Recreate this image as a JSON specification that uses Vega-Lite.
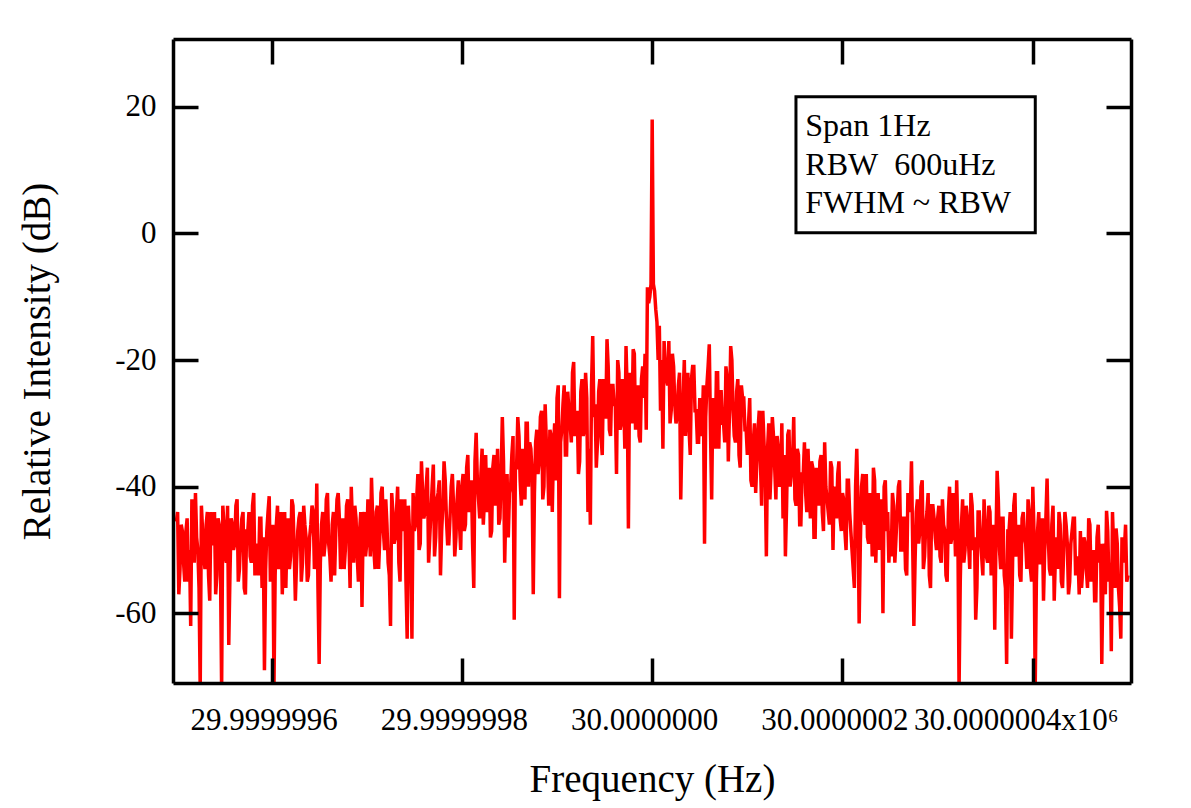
{
  "$schema": "https://vega.github.io/schema/vega-lite/v6.json",
  "width": 958,
  "height": 644,
  "autosize": {"type": "none"},
  "padding": {"left": 173, "top": 39, "right": 60, "bottom": 125},
  "background": "white",
  "config": {"view": {"stroke": null}, "font": "Liberation Serif"},
  "data": {"values": [
{"f":-0.5,"d":-45.5},{"f":-0.4975,"d":-57},{"f":-0.495,"d":-46},{"f":-0.4925,"d":-52},{"f":-0.49,"d":-47},{"f":-0.4875,"d":-55},{"f":-0.485,"d":-62},{"f":-0.4825,"d":-48},{"f":-0.48,"d":-41},{"f":-0.4775,"d":-50},{"f":-0.475,"d":-72},{"f":-0.4725,"d":-47},{"f":-0.47,"d":-53},{"f":-0.4675,"d":-44},{"f":-0.465,"d":-58},{"f":-0.4625,"d":-49},{"f":-0.46,"d":-44},{"f":-0.4575,"d":-54},{"f":-0.455,"d":-46},{"f":-0.4525,"d":-72},
{"f":-0.45,"d":-46},{"f":-0.4475,"d":-52},{"f":-0.445,"d":-65},{"f":-0.4425,"d":-45},{"f":-0.44,"d":-50},{"f":-0.4375,"d":-43},{"f":-0.435,"d":-55},{"f":-0.4325,"d":-48},{"f":-0.43,"d":-44},{"f":-0.4275,"d":-57},{"f":-0.425,"d":-47},{"f":-0.4225,"d":-51},{"f":-0.42,"d":-43},{"f":-0.4175,"d":-54},{"f":-0.415,"d":-49},{"f":-0.4125,"d":-45},{"f":-0.41,"d":-56},{"f":-0.4075,"d":-69},{"f":-0.405,"d":-47},{"f":-0.4025,"d":-41.5},
{"f":-0.4,"d":-50},{"f":-0.3975,"d":-72},{"f":-0.395,"d":-46},{"f":-0.3925,"d":-53},{"f":-0.39,"d":-44},{"f":-0.3875,"d":-49},{"f":-0.385,"d":-56},{"f":-0.3825,"d":-45},{"f":-0.38,"d":-51},{"f":-0.3775,"d":-43},{"f":-0.375,"d":-58},{"f":-0.3725,"d":-47},{"f":-0.37,"d":-44},{"f":-0.3675,"d":-52},{"f":-0.365,"d":-46},{"f":-0.3625,"d":-55},{"f":-0.36,"d":-48},{"f":-0.3575,"d":-43},{"f":-0.355,"d":-53},{"f":-0.3525,"d":-39.5},
{"f":-0.35,"d":-68},{"f":-0.3475,"d":-46},{"f":-0.345,"d":-51},{"f":-0.3425,"d":-42},{"f":-0.34,"d":-49},{"f":-0.3375,"d":-55},{"f":-0.335,"d":-44},{"f":-0.3325,"d":-47},{"f":-0.33,"d":-41},{"f":-0.3275,"d":-53},{"f":-0.325,"d":-45},{"f":-0.3225,"d":-50},{"f":-0.32,"d":-42},{"f":-0.3175,"d":-56},{"f":-0.315,"d":-46},{"f":-0.3125,"d":-43},{"f":-0.31,"d":-51},{"f":-0.3075,"d":-47},{"f":-0.305,"d":-59},{"f":-0.3025,"d":-44},
{"f":-0.3,"d":-49},{"f":-0.2975,"d":-45},{"f":-0.295,"d":-38.6},{"f":-0.2925,"d":-50},{"f":-0.29,"d":-44},{"f":-0.2875,"d":-53},{"f":-0.285,"d":-41},{"f":-0.2825,"d":-47},{"f":-0.28,"d":-42},{"f":-0.2775,"d":-52},{"f":-0.275,"d":-62},{"f":-0.2725,"d":-44},{"f":-0.27,"d":-48},{"f":-0.2675,"d":-40},{"f":-0.265,"d":-55},{"f":-0.2625,"d":-45},{"f":-0.26,"d":-42},{"f":-0.2575,"d":-64},{"f":-0.255,"d":-47},{"f":-0.2525,"d":-64},
{"f":-0.25,"d":-47},{"f":-0.2475,"d":-42},{"f":-0.245,"d":-50},{"f":-0.2425,"d":-36},{"f":-0.24,"d":-45},{"f":-0.2375,"d":-40},{"f":-0.235,"d":-52},{"f":-0.2325,"d":-44},{"f":-0.23,"d":-36.5},{"f":-0.2275,"d":-48},{"f":-0.225,"d":-41},{"f":-0.2225,"d":-54},{"f":-0.22,"d":-43},{"f":-0.2175,"d":-39},{"f":-0.215,"d":-49},{"f":-0.2125,"d":-45},{"f":-0.21,"d":-38},{"f":-0.2075,"d":-51},{"f":-0.205,"d":-42},{"f":-0.2025,"d":-46},
{"f":-0.2,"d":-40},{"f":-0.1975,"d":-47},{"f":-0.195,"d":-37},{"f":-0.1925,"d":-44},{"f":-0.19,"d":-39},{"f":-0.1875,"d":-56},{"f":-0.185,"d":-31.5},{"f":-0.1825,"d":-42},{"f":-0.18,"d":-38},{"f":-0.1775,"d":-46},{"f":-0.175,"d":-35},{"f":-0.1725,"d":-41},{"f":-0.17,"d":-48},{"f":-0.1675,"d":-37},{"f":-0.165,"d":-43},{"f":-0.1625,"d":-34},{"f":-0.16,"d":-45},{"f":-0.1575,"d":-29},{"f":-0.155,"d":-52},{"f":-0.1525,"d":-38},
{"f":-0.15,"d":-41},{"f":-0.1475,"d":-35},{"f":-0.145,"d":-61},{"f":-0.1425,"d":-37},{"f":-0.14,"d":-32},{"f":-0.1375,"d":-43},{"f":-0.135,"d":-36},{"f":-0.1325,"d":-30},{"f":-0.13,"d":-40},{"f":-0.1275,"d":-34},{"f":-0.125,"d":-57},{"f":-0.1225,"d":-33},{"f":-0.12,"d":-38},{"f":-0.1175,"d":-29},{"f":-0.115,"d":-42},{"f":-0.1125,"d":-27},{"f":-0.11,"d":-35},{"f":-0.1075,"d":-31},{"f":-0.105,"d":-44},{"f":-0.1025,"d":-30},
{"f":-0.1,"d":-26},{"f":-0.0975,"d":-57.6},{"f":-0.095,"d":-31},{"f":-0.0925,"d":-24},{"f":-0.09,"d":-35},{"f":-0.0875,"d":-28},{"f":-0.085,"d":-33},{"f":-0.0825,"d":-20.3},{"f":-0.08,"d":-30},{"f":-0.0775,"d":-38},{"f":-0.075,"d":-25},{"f":-0.0725,"d":-32},{"f":-0.07,"d":-22},{"f":-0.0675,"d":-44},{"f":-0.065,"d":-46},{"f":-0.0625,"d":-16.2},{"f":-0.06,"d":-27},{"f":-0.0575,"d":-33},{"f":-0.055,"d":-23},{"f":-0.0525,"d":-35},
{"f":-0.05,"d":-29},{"f":-0.0475,"d":-16.7},{"f":-0.045,"d":-31},{"f":-0.0425,"d":-24},{"f":-0.04,"d":-27},{"f":-0.0375,"d":-38},{"f":-0.035,"d":-22},{"f":-0.0325,"d":-30},{"f":-0.03,"d":-26},{"f":-0.0275,"d":-17.8},{"f":-0.025,"d":-46.6},{"f":-0.0225,"d":-25},{"f":-0.02,"d":-18.3},{"f":-0.0175,"d":-31},{"f":-0.015,"d":-24},{"f":-0.0125,"d":-33},{"f":-0.01,"d":-21},{"f":-0.0075,"d":-19},{"f":-0.005,"d":-8.5},{"f":-0.0025,"d":-10},
{"f":0,"d":18},{"f":0.0025,"d":-9.1},{"f":0.005,"d":-14},{"f":0.0075,"d":-14.6},{"f":0.01,"d":-20},{"f":0.0125,"d":-17},{"f":0.015,"d":-23},{"f":0.0175,"d":-17},{"f":0.02,"d":-28},{"f":0.0225,"d":-21},{"f":0.025,"d":-30},{"f":0.0275,"d":-24},{"f":0.03,"d":-42},{"f":0.0325,"d":-26},{"f":0.035,"d":-32},{"f":0.0375,"d":-22},{"f":0.04,"d":-35},{"f":0.0425,"d":-21},{"f":0.045,"d":-28},{"f":0.0475,"d":-33},
{"f":0.05,"d":-26},{"f":0.0525,"d":-31},{"f":0.055,"d":-49},{"f":0.0575,"d":-24},{"f":0.06,"d":-17.5},{"f":0.0625,"d":-42},{"f":0.065,"d":-27},{"f":0.0675,"d":-22},{"f":0.07,"d":-34},{"f":0.0725,"d":-25},{"f":0.075,"d":-30},{"f":0.0775,"d":-21},{"f":0.08,"d":-36},{"f":0.0825,"d":-17.8},{"f":0.085,"d":-28},{"f":0.0875,"d":-33},{"f":0.09,"d":-23},{"f":0.0925,"d":-37},{"f":0.095,"d":-26},{"f":0.0975,"d":-31},
{"f":0.1,"d":-35},{"f":0.1025,"d":-26},{"f":0.105,"d":-40},{"f":0.1075,"d":-30},{"f":0.11,"d":-36},{"f":0.1125,"d":-28},{"f":0.115,"d":-43},{"f":0.1175,"d":-33},{"f":0.12,"d":-51},{"f":0.1225,"d":-30},{"f":0.125,"d":-37},{"f":0.1275,"d":-32},{"f":0.13,"d":-42},{"f":0.1325,"d":-34},{"f":0.135,"d":-39},{"f":0.1375,"d":-45},{"f":0.14,"d":-51},{"f":0.1425,"d":-31.8},{"f":0.145,"d":-40},{"f":0.1475,"d":-36},
{"f":0.15,"d":-42},{"f":0.1525,"d":-34},{"f":0.155,"d":-46},{"f":0.1575,"d":-38},{"f":0.16,"d":-33},{"f":0.1625,"d":-44},{"f":0.165,"d":-40},{"f":0.1675,"d":-36},{"f":0.17,"d":-48},{"f":0.1725,"d":-37},{"f":0.175,"d":-43},{"f":0.1775,"d":-35},{"f":0.18,"d":-47},{"f":0.1825,"d":-40},{"f":0.185,"d":-44},{"f":0.1875,"d":-36},{"f":0.19,"d":-50},{"f":0.1925,"d":-41},{"f":0.195,"d":-38},{"f":0.1975,"d":-45},
{"f":0.2,"d":-41},{"f":0.2025,"d":-47},{"f":0.205,"d":-39},{"f":0.2075,"d":-44},{"f":0.21,"d":-50},{"f":0.2125,"d":-56},{"f":0.215,"d":-34},{"f":0.2175,"d":-61.6},{"f":0.22,"d":-40},{"f":0.2225,"d":-45},{"f":0.225,"d":-38},{"f":0.2275,"d":-49},{"f":0.23,"d":-42},{"f":0.2325,"d":-37},{"f":0.235,"d":-52},{"f":0.2375,"d":-41},{"f":0.24,"d":-46},{"f":0.2425,"d":-60},{"f":0.245,"d":-39},{"f":0.2475,"d":-44},
{"f":0.25,"d":-47},{"f":0.2525,"d":-41},{"f":0.255,"d":-52},{"f":0.2575,"d":-44},{"f":0.26,"d":-39},{"f":0.2625,"d":-50},{"f":0.265,"d":-45},{"f":0.2675,"d":-54},{"f":0.27,"d":-42},{"f":0.2725,"d":-36},{"f":0.275,"d":-62},{"f":0.2775,"d":-44},{"f":0.28,"d":-49},{"f":0.2825,"d":-40},{"f":0.285,"d":-53},{"f":0.2875,"d":-46},{"f":0.29,"d":-41},{"f":0.2925,"d":-56},{"f":0.295,"d":-43},{"f":0.2975,"d":-48},
{"f":0.3,"d":-45},{"f":0.3025,"d":-51},{"f":0.305,"d":-42},{"f":0.3075,"d":-47},{"f":0.31,"d":-55},{"f":0.3125,"d":-40},{"f":0.315,"d":-48},{"f":0.3175,"d":-44},{"f":0.32,"d":-39},{"f":0.3225,"d":-72},{"f":0.325,"d":-46},{"f":0.3275,"d":-52},{"f":0.33,"d":-43},{"f":0.3325,"d":-49},{"f":0.335,"d":-41},{"f":0.3375,"d":-50},{"f":0.34,"d":-61},{"f":0.3425,"d":-44},{"f":0.345,"d":-48},{"f":0.3475,"d":-54},
{"f":0.35,"d":-46},{"f":0.3525,"d":-52},{"f":0.355,"d":-44},{"f":0.3575,"d":-49},{"f":0.36,"d":-62.6},{"f":0.3625,"d":-37.5},{"f":0.365,"d":-50},{"f":0.3675,"d":-45},{"f":0.37,"d":-54},{"f":0.3725,"d":-68},{"f":0.375,"d":-47},{"f":0.3775,"d":-64},{"f":0.38,"d":-43},{"f":0.3825,"d":-51},{"f":0.385,"d":-46},{"f":0.3875,"d":-55},{"f":0.39,"d":-44},{"f":0.3925,"d":-49},{"f":0.395,"d":-42},{"f":0.3975,"d":-53},
{"f":0.4,"d":-40},{"f":0.4025,"d":-72},{"f":0.405,"d":-47},{"f":0.4075,"d":-52},{"f":0.41,"d":-45},{"f":0.4125,"d":-50},{"f":0.415,"d":-38.7},{"f":0.4175,"d":-53},{"f":0.42,"d":-46},{"f":0.4225,"d":-58},{"f":0.425,"d":-48},{"f":0.4275,"d":-44},{"f":0.43,"d":-55},{"f":0.4325,"d":-50},{"f":0.435,"d":-46},{"f":0.4375,"d":-57},{"f":0.44,"d":-49},{"f":0.4425,"d":-45},{"f":0.445,"d":-54},{"f":0.4475,"d":-51},
{"f":0.45,"d":-47},{"f":0.4525,"d":-53},{"f":0.455,"d":-49},{"f":0.4575,"d":-56},{"f":0.46,"d":-46},{"f":0.4625,"d":-51},{"f":0.465,"d":-58},{"f":0.4675,"d":-48},{"f":0.47,"d":-52},{"f":0.4725,"d":-68},{"f":0.475,"d":-49},{"f":0.4775,"d":-43.8},{"f":0.48,"d":-55},{"f":0.4825,"d":-66},{"f":0.485,"d":-50},{"f":0.4875,"d":-46.6},{"f":0.49,"d":-56},{"f":0.4925,"d":-64},{"f":0.495,"d":-52},{"f":0.4975,"d":-46},
{"f":0.5,"d":-54},
{"f":-0.49875,"d":-44},{"f":-0.49625,"d":-53},{"f":-0.49375,"d":-47},{"f":-0.49125,"d":-55},{"f":-0.48875,"d":-45},{"f":-0.48625,"d":-50},{"f":-0.48375,"d":-42},{"f":-0.48125,"d":-52},{"f":-0.47875,"d":-48},{"f":-0.47625,"d":-56},{"f":-0.47375,"d":-43},{"f":-0.47125,"d":-51},{"f":-0.46875,"d":-46},{"f":-0.46625,"d":-54},{"f":-0.46375,"d":-44},{"f":-0.46125,"d":-49},{"f":-0.45875,"d":-57},{"f":-0.45625,"d":-45},{"f":-0.45375,"d":-52},{"f":-0.45125,"d":-43},
{"f":-0.44875,"d":-51},{"f":-0.44625,"d":-43},{"f":-0.44375,"d":-54},{"f":-0.44125,"d":-46},{"f":-0.43875,"d":-49},{"f":-0.43625,"d":-42},{"f":-0.43375,"d":-53},{"f":-0.43125,"d":-45},{"f":-0.42875,"d":-56},{"f":-0.42625,"d":-47},{"f":-0.42375,"d":-44},{"f":-0.42125,"d":-52},{"f":-0.41875,"d":-41},{"f":-0.41625,"d":-50},{"f":-0.41375,"d":-54},{"f":-0.41125,"d":-45},{"f":-0.40875,"d":-48},{"f":-0.40625,"d":-53},{"f":-0.40375,"d":-44},{"f":-0.40125,"d":-55},
{"f":-0.39875,"d":-46},{"f":-0.39625,"d":-54},{"f":-0.39375,"d":-43},{"f":-0.39125,"d":-51},{"f":-0.38875,"d":-57},{"f":-0.38625,"d":-44},{"f":-0.38375,"d":-47},{"f":-0.38125,"d":-53},{"f":-0.37875,"d":-42},{"f":-0.37625,"d":-50},{"f":-0.37375,"d":-52},{"f":-0.37125,"d":-45},{"f":-0.36875,"d":-55},{"f":-0.36625,"d":-43},{"f":-0.36375,"d":-48},{"f":-0.36125,"d":-54},{"f":-0.35875,"d":-46},{"f":-0.35625,"d":-44},{"f":-0.35375,"d":-51},{"f":-0.35125,"d":-56},
{"f":-0.34875,"d":-52},{"f":-0.34625,"d":-44},{"f":-0.34375,"d":-49},{"f":-0.34125,"d":-41},{"f":-0.33875,"d":-51},{"f":-0.33625,"d":-46},{"f":-0.33375,"d":-54},{"f":-0.33125,"d":-42},{"f":-0.32875,"d":-45},{"f":-0.32625,"d":-50},{"f":-0.32375,"d":-53},{"f":-0.32125,"d":-43},{"f":-0.31875,"d":-48},{"f":-0.31625,"d":-40},{"f":-0.31375,"d":-52},{"f":-0.31125,"d":-45},{"f":-0.30875,"d":-55},{"f":-0.30625,"d":-44},{"f":-0.30375,"d":-46},{"f":-0.30125,"d":-51},
{"f":-0.29875,"d":-42},{"f":-0.29625,"d":-51},{"f":-0.29375,"d":-45},{"f":-0.29125,"d":-53},{"f":-0.28875,"d":-43},{"f":-0.28625,"d":-48},{"f":-0.28375,"d":-40},{"f":-0.28125,"d":-50},{"f":-0.27875,"d":-46},{"f":-0.27625,"d":-54},{"f":-0.27375,"d":-41},{"f":-0.27125,"d":-49},{"f":-0.26875,"d":-44},{"f":-0.26625,"d":-52},{"f":-0.26375,"d":-42},{"f":-0.26125,"d":-47},{"f":-0.25875,"d":-55},{"f":-0.25625,"d":-43},{"f":-0.25375,"d":-50},{"f":-0.25125,"d":-41},
{"f":-0.24875,"d":-46},{"f":-0.24625,"d":-38},{"f":-0.24375,"d":-49},{"f":-0.24125,"d":-41},{"f":-0.23875,"d":-44},{"f":-0.23625,"d":-37},{"f":-0.23375,"d":-48},{"f":-0.23125,"d":-40},{"f":-0.22875,"d":-51},{"f":-0.22625,"d":-42},{"f":-0.22375,"d":-39},{"f":-0.22125,"d":-47},{"f":-0.21875,"d":-36},{"f":-0.21625,"d":-45},{"f":-0.21375,"d":-49},{"f":-0.21125,"d":-40},{"f":-0.20875,"d":-43},{"f":-0.20625,"d":-48},{"f":-0.20375,"d":-39},{"f":-0.20125,"d":-50},
{"f":-0.19875,"d":-38},{"f":-0.19625,"d":-46},{"f":-0.19375,"d":-35},{"f":-0.19125,"d":-43},{"f":-0.18875,"d":-49},{"f":-0.18625,"d":-36},{"f":-0.18375,"d":-39},{"f":-0.18125,"d":-45},{"f":-0.17875,"d":-34},{"f":-0.17625,"d":-42},{"f":-0.17375,"d":-44},{"f":-0.17125,"d":-37},{"f":-0.16875,"d":-47},{"f":-0.16625,"d":-35},{"f":-0.16375,"d":-40},{"f":-0.16125,"d":-46},{"f":-0.15875,"d":-38},{"f":-0.15625,"d":-36},{"f":-0.15375,"d":-43},{"f":-0.15125,"d":-48},
{"f":-0.14875,"d":-40},{"f":-0.14625,"d":-32},{"f":-0.14375,"d":-37},{"f":-0.14125,"d":-29},{"f":-0.13875,"d":-39},{"f":-0.13625,"d":-34},{"f":-0.13375,"d":-42},{"f":-0.13125,"d":-30},{"f":-0.12875,"d":-33},{"f":-0.12625,"d":-38},{"f":-0.12375,"d":-41},{"f":-0.12125,"d":-31},{"f":-0.11875,"d":-36},{"f":-0.11625,"d":-28},{"f":-0.11375,"d":-40},{"f":-0.11125,"d":-33},{"f":-0.10875,"d":-43},{"f":-0.10625,"d":-32},{"f":-0.10375,"d":-34},{"f":-0.10125,"d":-39},
{"f":-0.09875,"d":-24},{"f":-0.09625,"d":-33},{"f":-0.09375,"d":-27},{"f":-0.09125,"d":-35},{"f":-0.08875,"d":-25},{"f":-0.08625,"d":-30},{"f":-0.08375,"d":-22},{"f":-0.08125,"d":-32},{"f":-0.07875,"d":-28},{"f":-0.07625,"d":-36},{"f":-0.07375,"d":-23},{"f":-0.07125,"d":-31},{"f":-0.06875,"d":-26},{"f":-0.06625,"d":-34},{"f":-0.06375,"d":-24},{"f":-0.06125,"d":-29},{"f":-0.05875,"d":-37},{"f":-0.05625,"d":-25},{"f":-0.05375,"d":-32},{"f":-0.05125,"d":-23},
{"f":-0.04875,"d":-29},{"f":-0.04625,"d":-21},{"f":-0.04375,"d":-32},{"f":-0.04125,"d":-24},{"f":-0.03875,"d":-27},{"f":-0.03625,"d":-20},{"f":-0.03375,"d":-31},{"f":-0.03125,"d":-23},{"f":-0.02875,"d":-34},{"f":-0.02625,"d":-25},{"f":-0.02375,"d":-22},{"f":-0.02125,"d":-30},{"f":-0.01875,"d":-19},{"f":-0.01625,"d":-28},{"f":-0.01375,"d":-32},{"f":-0.01125,"d":-23},{"f":-0.00875,"d":-26},{"f":-0.00625,"d":-31},{"f":-0.00375,"d":-11},{"f":-0.00125,"d":-8},
{"f":0.00125,"d":-8},{"f":0.00375,"d":-12},{"f":0.00625,"d":-20},{"f":0.00875,"d":-28},{"f":0.01125,"d":-34},{"f":0.01375,"d":-21},{"f":0.01625,"d":-24},{"f":0.01875,"d":-30},{"f":0.02125,"d":-19},{"f":0.02375,"d":-27},{"f":0.02625,"d":-29},{"f":0.02875,"d":-22},{"f":0.03125,"d":-32},{"f":0.03375,"d":-20},{"f":0.03625,"d":-25},{"f":0.03875,"d":-31},{"f":0.04125,"d":-23},{"f":0.04375,"d":-21},{"f":0.04625,"d":-28},{"f":0.04875,"d":-33},
{"f":0.05125,"d":-32},{"f":0.05375,"d":-24},{"f":0.05625,"d":-29},{"f":0.05875,"d":-21},{"f":0.06125,"d":-31},{"f":0.06375,"d":-26},{"f":0.06625,"d":-34},{"f":0.06875,"d":-22},{"f":0.07125,"d":-25},{"f":0.07375,"d":-30},{"f":0.07625,"d":-33},{"f":0.07875,"d":-23},{"f":0.08125,"d":-28},{"f":0.08375,"d":-20},{"f":0.08625,"d":-32},{"f":0.08875,"d":-25},{"f":0.09125,"d":-35},{"f":0.09375,"d":-24},{"f":0.09625,"d":-26},{"f":0.09875,"d":-31},
{"f":0.10125,"d":-30},{"f":0.10375,"d":-39},{"f":0.10625,"d":-33},{"f":0.10875,"d":-41},{"f":0.11125,"d":-31},{"f":0.11375,"d":-36},{"f":0.11625,"d":-28},{"f":0.11875,"d":-38},{"f":0.12125,"d":-34},{"f":0.12375,"d":-42},{"f":0.12625,"d":-29},{"f":0.12875,"d":-37},{"f":0.13125,"d":-32},{"f":0.13375,"d":-40},{"f":0.13625,"d":-30},{"f":0.13875,"d":-35},{"f":0.14125,"d":-43},{"f":0.14375,"d":-31},{"f":0.14625,"d":-38},{"f":0.14875,"d":-29},
{"f":0.15125,"d":-43},{"f":0.15375,"d":-35},{"f":0.15625,"d":-46},{"f":0.15875,"d":-38},{"f":0.16125,"d":-41},{"f":0.16375,"d":-34},{"f":0.16625,"d":-45},{"f":0.16875,"d":-37},{"f":0.17125,"d":-48},{"f":0.17375,"d":-39},{"f":0.17625,"d":-36},{"f":0.17875,"d":-44},{"f":0.18125,"d":-33},{"f":0.18375,"d":-42},{"f":0.18625,"d":-46},{"f":0.18875,"d":-37},{"f":0.19125,"d":-40},{"f":0.19375,"d":-45},{"f":0.19625,"d":-36},{"f":0.19875,"d":-47},
{"f":0.20125,"d":-42},{"f":0.20375,"d":-50},{"f":0.20625,"d":-39},{"f":0.20875,"d":-47},{"f":0.21125,"d":-53},{"f":0.21375,"d":-40},{"f":0.21625,"d":-43},{"f":0.21875,"d":-49},{"f":0.22125,"d":-38},{"f":0.22375,"d":-46},{"f":0.22625,"d":-48},{"f":0.22875,"d":-41},{"f":0.23125,"d":-51},{"f":0.23375,"d":-39},{"f":0.23625,"d":-44},{"f":0.23875,"d":-50},{"f":0.24125,"d":-42},{"f":0.24375,"d":-40},{"f":0.24625,"d":-47},{"f":0.24875,"d":-52},
{"f":0.25125,"d":-51},{"f":0.25375,"d":-43},{"f":0.25625,"d":-48},{"f":0.25875,"d":-40},{"f":0.26125,"d":-50},{"f":0.26375,"d":-45},{"f":0.26625,"d":-53},{"f":0.26875,"d":-41},{"f":0.27125,"d":-44},{"f":0.27375,"d":-49},{"f":0.27625,"d":-52},{"f":0.27875,"d":-42},{"f":0.28125,"d":-47},{"f":0.28375,"d":-39},{"f":0.28625,"d":-51},{"f":0.28875,"d":-44},{"f":0.29125,"d":-54},{"f":0.29375,"d":-43},{"f":0.29625,"d":-45},{"f":0.29875,"d":-50},
{"f":0.30125,"d":-43},{"f":0.30375,"d":-52},{"f":0.30625,"d":-46},{"f":0.30875,"d":-54},{"f":0.31125,"d":-44},{"f":0.31375,"d":-49},{"f":0.31625,"d":-41},{"f":0.31875,"d":-51},{"f":0.32125,"d":-47},{"f":0.32375,"d":-55},{"f":0.32625,"d":-42},{"f":0.32875,"d":-50},{"f":0.33125,"d":-45},{"f":0.33375,"d":-53},{"f":0.33625,"d":-43},{"f":0.33875,"d":-48},{"f":0.34125,"d":-56},{"f":0.34375,"d":-44},{"f":0.34625,"d":-51},{"f":0.34875,"d":-42},
{"f":0.35125,"d":-51},{"f":0.35375,"d":-43},{"f":0.35625,"d":-54},{"f":0.35875,"d":-46},{"f":0.36125,"d":-49},{"f":0.36375,"d":-42},{"f":0.36625,"d":-53},{"f":0.36875,"d":-45},{"f":0.37125,"d":-56},{"f":0.37375,"d":-47},{"f":0.37625,"d":-44},{"f":0.37875,"d":-52},{"f":0.38125,"d":-41},{"f":0.38375,"d":-50},{"f":0.38625,"d":-54},{"f":0.38875,"d":-45},{"f":0.39125,"d":-48},{"f":0.39375,"d":-53},{"f":0.39625,"d":-44},{"f":0.39875,"d":-55},
{"f":0.40125,"d":-47},{"f":0.40375,"d":-55},{"f":0.40625,"d":-44},{"f":0.40875,"d":-52},{"f":0.41125,"d":-58},{"f":0.41375,"d":-45},{"f":0.41625,"d":-48},{"f":0.41875,"d":-54},{"f":0.42125,"d":-43},{"f":0.42375,"d":-51},{"f":0.42625,"d":-53},{"f":0.42875,"d":-46},{"f":0.43125,"d":-56},{"f":0.43375,"d":-44},{"f":0.43625,"d":-49},{"f":0.43875,"d":-55},{"f":0.44125,"d":-47},{"f":0.44375,"d":-45},{"f":0.44625,"d":-52},{"f":0.44875,"d":-57},
{"f":0.45125,"d":-56},{"f":0.45375,"d":-48},{"f":0.45625,"d":-53},{"f":0.45875,"d":-45},{"f":0.46125,"d":-55},{"f":0.46375,"d":-50},{"f":0.46625,"d":-58},{"f":0.46875,"d":-46},{"f":0.47125,"d":-49},{"f":0.47375,"d":-54},{"f":0.47625,"d":-57},{"f":0.47875,"d":-47},{"f":0.48125,"d":-52},{"f":0.48375,"d":-44},{"f":0.48625,"d":-56},{"f":0.48875,"d":-49},{"f":0.49125,"d":-59},{"f":0.49375,"d":-48},{"f":0.49625,"d":-50},{"f":0.49875,"d":-55}
  ]},
  "layer": [
    {
      "mark": {"type": "line", "color": "#ff0000", "strokeWidth": 3.5, "clip": true},
      "encoding": {
        "x": {
          "field": "f", "type": "quantitative",
          "scale": {"domain": [-0.5036, 0.5032], "nice": false, "zero": false},
          "axis": {
            "orient": "bottom",
            "values": [-0.4, -0.2, 0, 0.2, 0.4],
            "labelExpr": "format(30 + datum.value * 1e-6, '.7f') + (datum.value > 0.3 ? 'x10⁶' : '')",
            "labelOffset": {"condition": {"test": "datum.value > 0.3", "value": -17}, "value": -8},
            "labelFont": "Liberation Serif", "labelFontSize": 31, "labelColor": "black",
            "labelPadding": 47, "labelOverlap": false, "labelFlush": false, "labelBound": false, "labelLimit": 500,
            "tickSize": -25, "tickWidth": 3.5, "tickColor": "black",
            "domain": true, "domainWidth": 3.5, "domainColor": "black",
            "grid": false, "zindex": 1,
            "title": "Frequency (Hz)", "titleFont": "Liberation Serif", "titleFontSize": 39,
            "titleFontWeight": "normal", "titleColor": "black", "titlePadding": 25
          }
        },
        "y": {
          "field": "d", "type": "quantitative",
          "scale": {"domain": [-71, 30.7], "nice": false, "zero": false},
          "axis": {
            "orient": "left",
            "values": [-60, -40, -20, 0, 20],
            "labelExpr": "(datum.value < 0 ? '-' : '') + format(abs(datum.value), 'd')",
            "labelFont": "Liberation Serif", "labelFontSize": 31, "labelColor": "black",
            "labelPadding": 42, "labelOverlap": false, "labelFlush": false,
            "tickSize": -25, "tickWidth": 3.5, "tickColor": "black",
            "domain": true, "domainWidth": 3.5, "domainColor": "black",
            "grid": false, "zindex": 1,
            "title": "Relative Intensity (dB)", "titleFont": "Liberation Serif", "titleFontSize": 39,
            "titleFontWeight": "normal", "titleColor": "black", "titlePadding": 57
          }
        }
      }
    },
    {
      "data": {"values": [{"box": "legend"}]},
      "mark": {"type": "rect", "fill": "white", "stroke": "black", "strokeWidth": 3},
      "encoding": {
        "x": {"datum": 0.1511, "type": "quantitative", "axis": null},
        "x2": {"datum": 0.4026},
        "y": {"datum": 21.57, "type": "quantitative", "axis": null},
        "y2": {"datum": 0.09}
      }
    },
    {
      "data": {"values": [{"label": "Span 1Hz\nRBW\u00a0 600uHz\nFWHM ~ RBW"}]},
      "mark": {"type": "text", "align": "left", "baseline": "alphabetic", "font": "Liberation Serif",
               "fontSize": 32, "color": "black", "lineBreak": "\n", "lineHeight": 38.5},
      "encoding": {
        "x": {"datum": 0.1609, "type": "quantitative", "axis": null},
        "y": {"datum": 15.36, "type": "quantitative", "axis": null},
        "text": {"field": "label"}
      }
    },
    {
      "mark": {"type": "line", "strokeOpacity": 0, "clip": true},
      "encoding": {
        "x": {
          "field": "f", "type": "quantitative",
          "axis": {
            "orient": "top", "values": [-0.4, -0.2, 0, 0.2, 0.4], "labels": false, "title": null,
            "tickSize": -25, "tickWidth": 3.5, "tickColor": "black",
            "domain": true, "domainWidth": 3.5, "domainColor": "black", "grid": false, "zindex": 1
          }
        },
        "y": {
          "field": "d", "type": "quantitative",
          "axis": {
            "orient": "right", "values": [-60, -40, -20, 0, 20], "labels": false, "title": null,
            "tickSize": -25, "tickWidth": 3.5, "tickColor": "black",
            "domain": true, "domainWidth": 3.5, "domainColor": "black", "grid": false, "zindex": 1
          }
        }
      }
    }
  ],
  "resolve": {"axis": {"x": "independent", "y": "independent"}}
}
